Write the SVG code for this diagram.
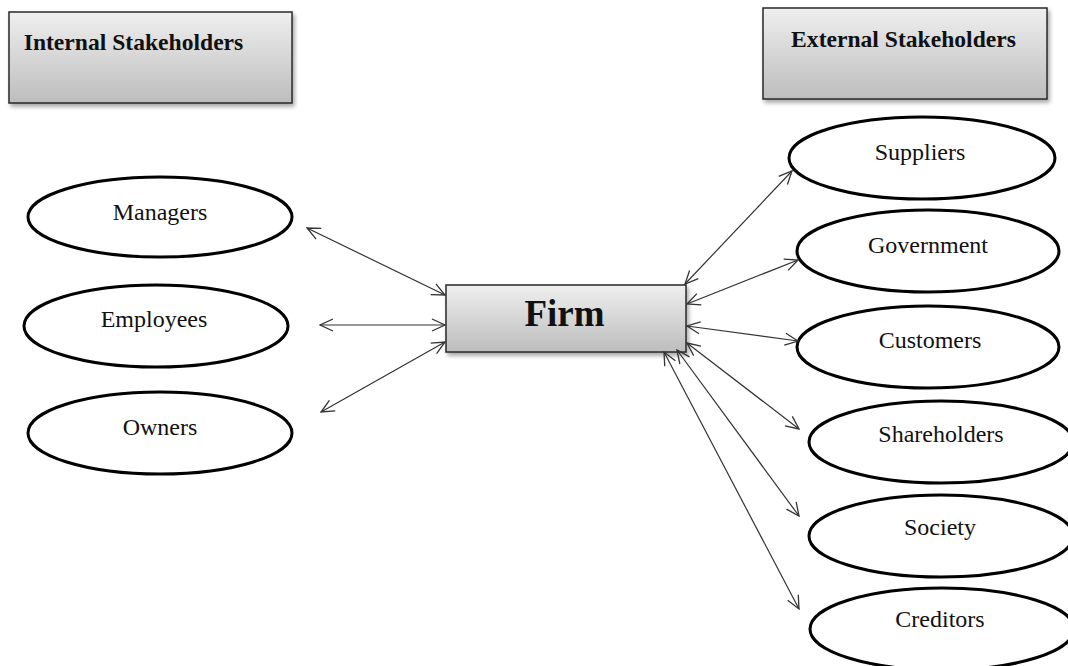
<svg xmlns="http://www.w3.org/2000/svg" width="1068" height="666" viewBox="0 0 1068 666">
<style>
.box{fill:url(#g);stroke:#2a2a2a;stroke-width:1.5;filter:url(#sh)}
.ell{fill:#fff;stroke:#000;stroke-width:3}
.t{font-family:"Liberation Serif","Times New Roman",serif;font-size:24px;fill:#111;text-anchor:middle}
.h{font-family:"Liberation Serif","Times New Roman",serif;font-size:23.6px;font-weight:bold;fill:#111;text-anchor:middle}
.f{font-family:"Liberation Serif","Times New Roman",serif;font-size:37px;font-weight:bold;fill:#111;text-anchor:middle}
.c line{stroke:#333;stroke-width:1.2;marker-start:url(#a);marker-end:url(#a)}
</style>
<defs>
<linearGradient id="g" x1="0" y1="0" x2="0" y2="1">
<stop offset="0" stop-color="#efefef"/>
<stop offset="1" stop-color="#bdbdbd"/>
</linearGradient>
<filter id="sh" x="-10%" y="-10%" width="130%" height="140%">
<feDropShadow dx="2" dy="3" stdDeviation="2" flood-color="#000" flood-opacity="0.35"/>
</filter>
<marker id="a" viewBox="0 0 15 14" refX="14" refY="7" markerWidth="15" markerHeight="14" markerUnits="userSpaceOnUse" orient="auto-start-reverse">
<path d="M1,1 L14,7 L1,13" fill="none" stroke="#333" stroke-width="1.3"/>
</marker>
</defs>
<g id="internal-header"><rect class="box" x="9" y="12" width="283" height="91"/><text class="h" x="133.5" y="50">Internal Stakeholders</text></g>
<g id="external-header"><rect class="box" x="763" y="8" width="284" height="91"/><text class="h" x="903.5" y="47">External Stakeholders</text></g>
<g id="firm"><rect class="box" x="446" y="285" width="240" height="67"/><text class="f" x="564.5" y="326">Firm</text></g>
<g id="managers"><ellipse class="ell" cx="160" cy="217" rx="132" ry="40"/><text class="t" x="160" y="220">Managers</text></g>
<g id="employees"><ellipse class="ell" cx="156" cy="326" rx="132" ry="41"/><text class="t" x="154" y="327">Employees</text></g>
<g id="owners"><ellipse class="ell" cx="160" cy="433" rx="132" ry="41"/><text class="t" x="160" y="435">Owners</text></g>
<g id="suppliers"><ellipse class="ell" cx="922" cy="158" rx="133" ry="41"/><text class="t" x="920" y="160">Suppliers</text></g>
<g id="government"><ellipse class="ell" cx="928" cy="251" rx="131" ry="41"/><text class="t" x="928" y="253">Government</text></g>
<g id="customers"><ellipse class="ell" cx="928" cy="347" rx="131" ry="41"/><text class="t" x="930" y="348">Customers</text></g>
<g id="shareholders"><ellipse class="ell" cx="941" cy="442" rx="132" ry="41"/><text class="t" x="941" y="442">Shareholders</text></g>
<g id="society"><ellipse class="ell" cx="941" cy="536" rx="132" ry="41"/><text class="t" x="940" y="535">Society</text></g>
<g id="creditors"><ellipse class="ell" cx="942" cy="629" rx="132" ry="41"/><text class="t" x="940" y="627">Creditors</text></g>
<g id="connectors" class="c">
<line x1="307" y1="228" x2="445" y2="295"/>
<line x1="320" y1="325" x2="445" y2="325"/>
<line x1="321" y1="412" x2="445" y2="342"/>
<line x1="685" y1="284" x2="792" y2="171"/>
<line x1="687" y1="304" x2="798" y2="260"/>
<line x1="687" y1="326" x2="798" y2="341"/>
<line x1="687" y1="343" x2="799" y2="429"/>
<line x1="677" y1="350" x2="799" y2="516"/>
<line x1="664" y1="352" x2="799" y2="609"/>
</g>
</svg>
